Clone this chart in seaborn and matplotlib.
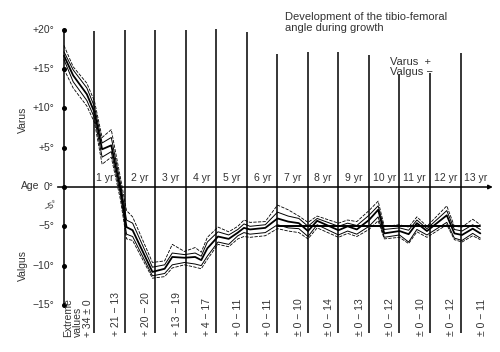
import matplotlib
matplotlib.use("Agg")
import matplotlib.pyplot as plt
import seaborn as sns
import numpy as np

sns.set_style("white")
plt.rcParams['font.family'] = ['Liberation Sans', 'DejaVu Sans']

# ---- data ----
AGES = [0.0, 0.3, 0.75, 1.0, 1.25, 1.55, 1.85, 2.05, 2.25, 2.9, 3.3, 3.55, 3.95, 4.3, 4.5,
        4.7, 5.05, 5.4, 5.7, 5.9, 6.1, 6.6, 7.0, 7.35, 7.7, 8.0, 8.3, 9.0, 9.3, 9.6,
        10.0, 10.3, 10.5, 11.0, 11.3, 11.57, 11.9, 12.55, 12.8, 13.05, 13.4, 13.65]

UPPER_DASHED = [18.0, 15.3, 13.2, 10.9, 6.3, 7.3, 1.2, -3.0, -3.8, -9.6, -9.4, -7.3, -8.2, -7.7, -8.3,
                -6.4, -5.1, -5.7, -5.0, -4.2, -4.5, -4.4, -2.3, -2.9, -3.7, -4.5, -3.7, -4.6, -4.2, -4.4,
                -3.0, -1.8, -5.0, -4.8, -5.1, -3.8, -5.0, -2.4, -5.0, -5.1, -4.1, -4.8]
UPPER = [17.2, 14.9, 12.6, 10.2, 5.6, 6.3, 0.5, -4.2, -4.6, -10.2, -9.9, -8.4, -8.6, -8.4, -8.8,
         -7.0, -5.7, -6.1, -5.4, -4.7, -5.0, -4.8, -3.2, -3.7, -4.0, -5.0, -4.0, -5.0, -4.6, -4.9,
         -3.6, -2.4, -5.4, -5.2, -5.5, -4.2, -5.3, -3.0, -5.4, -5.6, -4.8, -5.4]
MEAN = [16.7, 14.2, 11.8, 9.5, 4.8, 5.3, -0.2, -5.1, -5.5, -10.8, -10.4, -8.9, -9.0, -8.9, -9.3,
        -7.8, -6.3, -6.6, -5.8, -5.2, -5.4, -5.2, -4.0, -4.4, -4.6, -5.6, -4.3, -5.5, -5.0, -5.4,
        -4.2, -2.9, -5.9, -5.6, -6.0, -4.6, -5.6, -3.6, -5.9, -6.1, -5.3, -5.9]
LOWER = [16.2, 13.4, 11.0, 8.8, 3.8, 4.5, -0.9, -6.0, -6.3, -11.3, -11.0, -9.9, -9.6, -9.8, -10.0,
         -8.8, -7.0, -7.3, -6.2, -5.8, -6.0, -5.8, -4.8, -5.2, -5.3, -6.3, -4.8, -6.1, -5.6, -6.0,
         -5.0, -3.8, -6.4, -6.1, -7.0, -5.4, -6.1, -4.5, -6.5, -6.8, -5.9, -6.5]
LOWER_DASHED = [15.0, 12.6, 10.3, 8.2, 2.9, 3.8, -1.6, -6.6, -6.8, -11.6, -11.4, -10.3, -9.9, -10.2, -10.4,
                -9.2, -7.3, -7.6, -6.6, -6.3, -6.4, -6.2, -5.3, -5.6, -5.8, -6.6, -5.2, -6.4, -5.9, -6.3,
                -5.4, -4.3, -6.6, -6.4, -7.2, -5.7, -6.4, -4.8, -6.7, -7.0, -6.2, -6.7]

YEAR_LABELS = ["1 yr", "2 yr", "3 yr", "4 yr", "5 yr", "6 yr", "7 yr", "8 yr", "9 yr",
               "10 yr", "11 yr", "12 yr", "13 yr"]
YEAR_LINES = [1, 2, 3, 4, 5, 6, 7, 8, 9, 10, 11, 12, 13]
YEAR_LINE_TOPS = [19.85, 20.0, 20.0, 20.0, 20.1, 19.7, 16.9, 17.2, 17.2, 16.8, 14.4, 14.5, 17.0]
EXTREMES = ["+ 21 \u2212 13", "+ 20 \u2212 20", "+ 13 \u2212 19", "+ 4 \u2212 17", "+ 0 \u2212 11",
            "+ 0 \u2212 11", "\u00b1 0 \u2212 10", "\u00b1 0 \u2212 14", "\u00b1 0 \u2212 13",
            "\u00b1 0 \u2212 12", "\u00b1 0 \u2212 10", "\u00b1 0 \u2212 12", "\u00b1 0 \u2212 11"]
YTICKS = [20, 15, 10, 5, 0, -5, -10, -15]
YTICK_LABELS = ["+20\u00b0", "+15\u00b0", "+10\u00b0", "+5\u00b0", "0\u00b0", "\u22125\u00b0",
                "\u221210\u00b0", "\u221215\u00b0"]

TXT = "#333333"
FS = 7.5

fig = plt.figure(figsize=(5.0, 3.52), dpi=100)
ax = fig.add_axes([0, 0, 1, 1])
ax.set_xlim(-2.098, 14.295)
ax.set_ylim(-20.99, 23.79)
ax.axis("off")

# vertical year lines
BOTTOM = -18.6
for xl, top in zip(YEAR_LINES, YEAR_LINE_TOPS):
    ax.plot([xl, xl], [BOTTOM, top], color="black", lw=1.1, solid_capstyle="butt")

# y axis
ax.plot([0, 0], [-15, 20], color="black", lw=1.1)
ax.plot([0] * len(YTICKS), YTICKS, "o", color="black", ms=2.6)
for v, lab in zip(YTICKS, YTICK_LABELS):
    ax.text(-0.33, v, lab, ha="right", va="center", fontsize=FS, color=TXT)
ax.text(-0.45, -2.4, "\u22125\u00b0", ha="center", va="center", fontsize=FS - 1, color=TXT, rotation=25)
ax.text(-1.1, 0.15, "Age", ha="center", va="center", fontsize=FS, color=TXT)
ax.text(-1.34, 8.5, "Varus", ha="center", va="center", rotation=90, fontsize=FS, color=TXT)
ax.text(-1.34, -10.0, "Valgus", ha="center", va="center", rotation=90, fontsize=FS, color=TXT)

# horizontal axis with arrow
ax.annotate("", xy=(14.15, 0), xytext=(-0.3, 0),
            arrowprops=dict(arrowstyle="-|>", color="black", lw=1.1, mutation_scale=6))

# normal reference line at -5
ax.plot([7.0, 13.65], [-5, -5], color="black", lw=1.4)

# year labels
for k, lab in zip(YEAR_LINES, YEAR_LABELS):
    xpos = 1.35 if k == 1 else k + 0.5
    ax.text(xpos, 1.2, lab, ha="center", va="center", fontsize=FS, color=TXT)

# extreme value labels
ax.text(0.46, -19.1, "Extreme\nvalues\n+ 34 \u00b1 0", rotation=90, ha="center", va="bottom",
        multialignment="left", fontsize=FS, color=TXT, linespacing=0.95)
for k, lab in zip(YEAR_LINES, EXTREMES):
    ax.text(k + 0.69, -19.0, lab, rotation=90, ha="center", va="bottom", fontsize=FS, color=TXT)

# data lines
sns.lineplot(x=AGES, y=UPPER_DASHED, ax=ax, color="black", lw=0.6, linestyle=(0, (4, 1.5)),
             estimator=None, sort=False)
sns.lineplot(x=AGES, y=UPPER, ax=ax, color="black", lw=0.7, estimator=None, sort=False)
sns.lineplot(x=AGES, y=MEAN, ax=ax, color="black", lw=1.3, estimator=None, sort=False)
sns.lineplot(x=AGES, y=LOWER, ax=ax, color="black", lw=0.7, estimator=None, sort=False)
sns.lineplot(x=AGES, y=LOWER_DASHED, ax=ax, color="black", lw=0.6, linestyle=(0, (4, 1.5)),
             estimator=None, sort=False)

# title and legend text
ax.text(7.25, 22.3, "Development of the tibio-femoral\nangle during growth", ha="left", va="top",
        fontsize=8, color=TXT, linespacing=1.15)
ax.text(10.69, 16.6, "Varus  +\nValgus \u2212", ha="left", va="top", fontsize=8, color=TXT,
        linespacing=1.0)

fig.savefig("out.png", dpi=100)
